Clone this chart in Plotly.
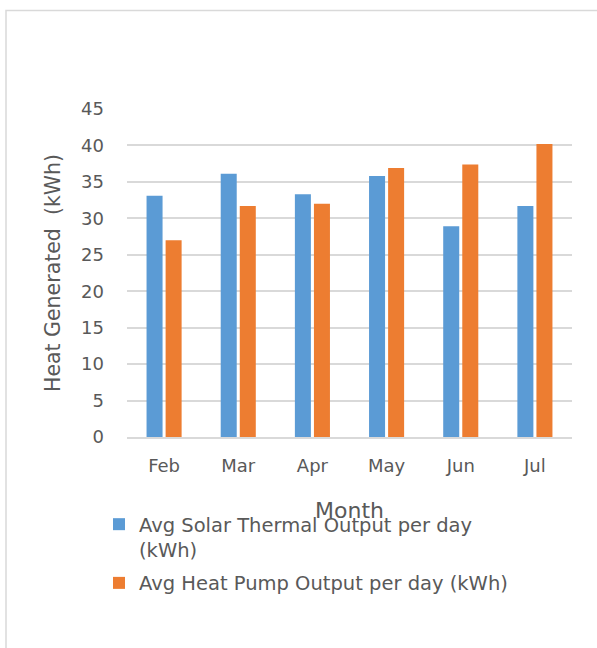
import plotly.graph_objects as go

months = ["Feb", "Mar", "Apr", "May", "Jun", "Jul"]
solar = [33.1, 36.1, 33.3, 35.8, 28.9, 31.7]
heat_pump = [27.0, 31.7, 32.0, 36.9, 37.4, 40.2]
y_ticks = [0, 5, 10, 15, 20, 25, 30, 35, 40, 45]

FONT = "DejaVu Sans"
GRAY = "#595959"

fig = go.Figure()
fig.add_trace(go.Bar(x=months, y=solar, name="Avg Solar Thermal Output per day<br>(kWh)",
                     legendgroup="a",
                     marker=dict(color="#5B9BD5", line=dict(width=0))))
fig.add_trace(go.Bar(x=months, y=heat_pump, name="Avg Heat Pump Output per day (kWh)",
                     legendgroup="b",
                     marker=dict(color="#ED7D31", line=dict(width=0))))

L, R, T, B = 127, 25, 109, 211
W, H = 597, 648
pw = W - L - R
ph = H - T - B

def px(x):
    return (x - L) / pw

def py(y):
    return (H - B - y) / ph

fig.update_layout(
    width=W, height=H,
    margin=dict(l=L, r=R, t=T, b=B, autoexpand=False),
    paper_bgcolor="white", plot_bgcolor="white",
    font=dict(family=FONT, color=GRAY, size=18),
    barmode="group", bargap=0.486, bargroupgap=0.16,
    showlegend=True,
    legend=dict(orientation="v", x=px(99), y=py(505), xanchor="left", yanchor="top",
                font=dict(size=19.5, color=GRAY, family=FONT), valign="top",
                bgcolor="rgba(0,0,0,0)", tracegroupgap=5, itemwidth=30),
    xaxis=dict(showgrid=False, showline=True, linecolor="#D9D9D9", linewidth=1.5,
               ticks="", tickfont=dict(size=18, color=GRAY), ticklabelstandoff=12,
               title=dict(text="Month", font=dict(size=22, color=GRAY), standoff=27),
               automargin=False),
    yaxis=dict(range=[0, 45], tickvals=y_ticks, showgrid=True, gridcolor="#D9D9D9", gridwidth=1.5,
               zeroline=False, showline=False, ticks="",
               tickfont=dict(size=18, color=GRAY), ticklabelstandoff=22,
               title=dict(text="Heat Generated  (kWh)", font=dict(size=20.5, color=GRAY), standoff=14),
               automargin=False),
    shapes=[dict(type="rect", xref="paper", yref="paper",
                 x0=px(6), x1=px(640), y0=py(700), y1=py(10.5),
                 line=dict(color="#D9D9D9", width=1.5), fillcolor="rgba(0,0,0,0)", layer="below")],
)

fig.write_html("out.html", config={"displayModeBar": False},
               post_script="document.body.style.margin='0';")
